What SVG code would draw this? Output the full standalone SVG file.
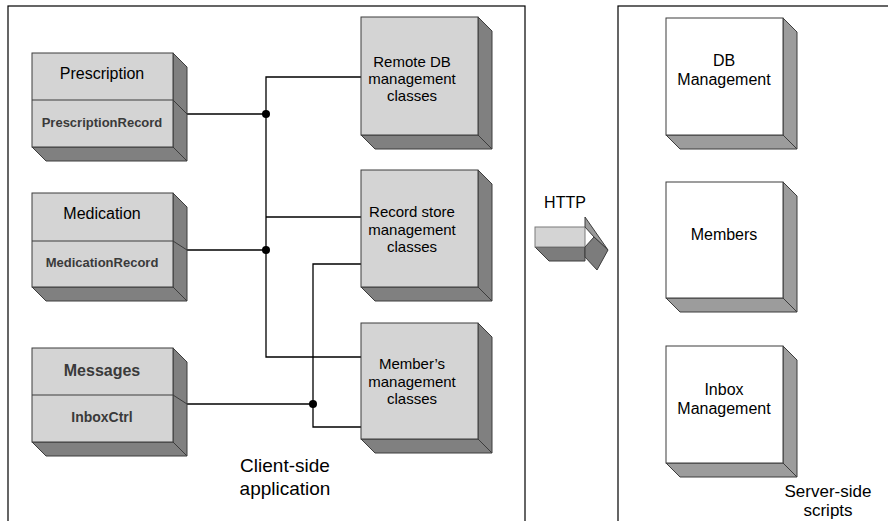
<svg xmlns="http://www.w3.org/2000/svg" width="888" height="521" viewBox="0 0 888 521">
  <style>
    .frame { fill: none; stroke: #000; stroke-width: 1.2; }
    .face { fill: #d4d4d4; stroke: #3c3c3c; stroke-width: 1; }
    .shade { fill: #808080; stroke: #3c3c3c; stroke-width: 1; }
    .wface { fill: #fff; stroke: #3c3c3c; stroke-width: 1; }
    .wshade { fill: #9c9c9c; stroke: #3c3c3c; stroke-width: 1; }
    .div { stroke: #3c3c3c; stroke-width: 1; fill: none; }
    .wire { stroke: #000; stroke-width: 1.3; fill: none; }
    .dot { fill: #000; }
    text { font-family: "Liberation Sans", Arial, sans-serif; text-anchor: middle; fill: #000; }
    .title { font-size: 16px; }
    .rec { font-size: 13px; font-weight: bold; fill: #3a3a3a; }
    .btitle { font-size: 16px; font-weight: bold; fill: #3a3a3a; }
    .cls { font-size: 15px; }
    .srv { font-size: 16px; }
    .cap { font-size: 19px; }
    .cap2 { font-size: 17px; }
  </style>

  <!-- container frames -->
  <rect class="frame" x="8" y="6" width="517" height="530"/>
  <rect class="frame" x="618" y="6" width="290" height="530"/>

  <!-- connectors -->
  <g id="connectors">
    <polyline class="wire" points="187,114 266,114"/>
    <polyline class="wire" points="187,250 266,250"/>
    <polyline class="wire" points="361,77 266,77 266,357 361,357"/>
    <polyline class="wire" points="266,217 361,217"/>
    <polyline class="wire" points="361,264 313,264 313,427 361,427"/>
    <polyline class="wire" points="187,404 313,404"/>
    <circle class="dot" cx="266" cy="114" r="4"/>
    <circle class="dot" cx="266" cy="250" r="4"/>
    <circle class="dot" cx="313" cy="404" r="4"/>
  </g>

  <!-- class nodes -->
  <g id="prescription">
    <polygon class="shade" points="173,53 187,67 187,161 173,147"/>
    <polygon class="shade" points="32,147 173,147 187,161 46,161"/>
    <rect class="face" x="32" y="53" width="141" height="94"/>
    <line class="div" x1="32" y1="100" x2="173" y2="100"/>
    <line class="div" x1="173" y1="100" x2="187" y2="114"/>
    <text class="title" x="102" y="79">Prescription</text>
    <text class="rec" x="102" y="127">PrescriptionRecord</text>
  </g>

  <g id="medication">
    <polygon class="shade" points="173,193 187,207 187,301 173,287"/>
    <polygon class="shade" points="32,287 173,287 187,301 46,301"/>
    <rect class="face" x="32" y="193" width="141" height="94"/>
    <line class="div" x1="32" y1="241" x2="173" y2="241"/>
    <line class="div" x1="173" y1="241" x2="187" y2="250"/>
    <text class="title" x="102" y="219">Medication</text>
    <text class="rec" x="102" y="267">MedicationRecord</text>
  </g>

  <g id="messages">
    <polygon class="shade" points="173,348 187,362 187,456 173,442"/>
    <polygon class="shade" points="32,442 173,442 187,456 46,456"/>
    <rect class="face" x="32" y="348" width="141" height="94"/>
    <line class="div" x1="32" y1="395" x2="173" y2="395"/>
    <line class="div" x1="173" y1="395" x2="187" y2="404"/>
    <text class="btitle" x="102" y="376">Messages</text>
    <text class="rec" x="102" y="422" style="font-size:14px">InboxCtrl</text>
  </g>

  <!-- client-side management classes -->
  <g id="remote-db">
    <polygon class="shade" points="478,17 492,31 492,149 478,135"/>
    <polygon class="shade" points="361,135 478,135 492,149 375,149"/>
    <rect class="face" x="361" y="17" width="117" height="118"/>
    <text class="cls" x="412" y="67">Remote DB</text>
    <text class="cls" x="412" y="84">management</text>
    <text class="cls" x="412" y="101">classes</text>
  </g>

  <g id="record-store">
    <polygon class="shade" points="478,170 492,184 492,301 478,287"/>
    <polygon class="shade" points="361,287 478,287 492,301 375,301"/>
    <rect class="face" x="361" y="170" width="117" height="117"/>
    <text class="cls" x="412" y="217">Record store</text>
    <text class="cls" x="412" y="235">management</text>
    <text class="cls" x="412" y="252">classes</text>
  </g>

  <g id="members-mgmt">
    <polygon class="shade" points="478,323 492,337 492,453 478,439"/>
    <polygon class="shade" points="361,439 478,439 492,453 375,453"/>
    <rect class="face" x="361" y="323" width="117" height="116"/>
    <text class="cls" x="412" y="369">Member’s</text>
    <text class="cls" x="412" y="387">management</text>
    <text class="cls" x="412" y="404">classes</text>
  </g>

  <text class="cap" x="285" y="472">Client-side</text>
  <text class="cap" x="285" y="495">application</text>

  <!-- HTTP arrow -->
  <g id="http">
    <text class="srv" x="565" y="208">HTTP</text>
    <polygon class="shade" points="535,247 585,247 585,261 549,261" style="fill:#7c7c7c"/>
    <rect x="535" y="227" width="50" height="20" style="fill:#d4d4d4;stroke:#7a7a7a;stroke-width:1"/>
    <polygon points="585,217 608,250 594,237 585,227" style="fill:#9a9a9a;stroke:#3c3c3c;stroke-width:1"/>
    <polygon points="594,237 608,250 597,270 585,257 585,247" style="fill:#7c7c7c;stroke:#3c3c3c;stroke-width:1"/>
  </g>

  <!-- server-side scripts -->
  <g id="db-management">
    <polygon class="wshade" points="783,18 797,32 797,149 783,135"/>
    <polygon class="wshade" points="666,135 783,135 797,149 680,149"/>
    <rect class="wface" x="666" y="18" width="117" height="117"/>
    <text class="srv" x="724" y="66">DB</text>
    <text class="srv" x="724" y="85">Management</text>
  </g>

  <g id="members">
    <polygon class="wshade" points="783,182 797,196 797,312 783,298"/>
    <polygon class="wshade" points="666,298 783,298 797,312 680,312"/>
    <rect class="wface" x="666" y="182" width="117" height="116"/>
    <text class="srv" x="724" y="240">Members</text>
  </g>

  <g id="inbox-management">
    <polygon class="wshade" points="783,346 797,360 797,477 783,463"/>
    <polygon class="wshade" points="666,463 783,463 797,477 680,477"/>
    <rect class="wface" x="666" y="346" width="117" height="117"/>
    <text class="srv" x="724" y="395">Inbox</text>
    <text class="srv" x="724" y="414">Management</text>
  </g>

  <text class="cap2" x="828" y="497">Server-side</text>
  <text class="cap2" x="828" y="516">scripts</text>
</svg>
